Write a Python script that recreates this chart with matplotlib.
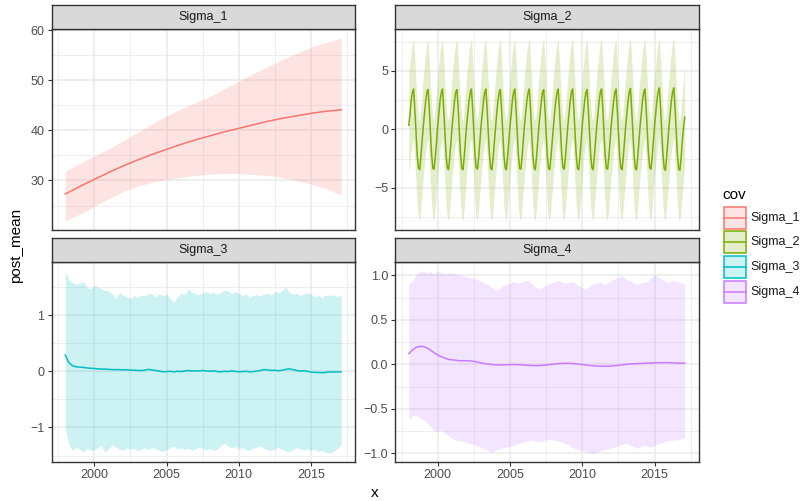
import numpy as np
import matplotlib
matplotlib.use("Agg")
import matplotlib.pyplot as plt
from matplotlib.patches import Rectangle
from matplotlib.lines import Line2D
from matplotlib.ticker import FuncFormatter

plt.rcParams['font.family'] = ['Liberation Sans', 'DejaVu Sans']

covs = ["Sigma_1", "Sigma_2", "Sigma_3", "Sigma_4"]
colors = ["#F8766D", "#7CAE00", "#00BFC4", "#C77CFF"]

# ---- Sigma_1: slowly rising level (yearly) ----
s1_x = [1998, 1999, 2000, 2001, 2002, 2003, 2004, 2005, 2006, 2007,
        2008, 2009, 2010, 2011, 2012, 2013, 2014, 2015, 2016, 2017.08]
s1_mean = [27.3, 28.8, 30.2, 31.6, 32.9, 34.1, 35.2, 36.2, 37.2, 38.1,
           38.9, 39.7, 40.4, 41.1, 41.8, 42.4, 42.9, 43.4, 43.8, 44.1]
s1_lo = [22.0, 23.3, 24.8, 26.4, 27.8, 28.9, 29.6, 30.2, 30.6, 31.0,
         31.3, 31.4, 31.4, 31.2, 31.0, 30.6, 30.0, 29.3, 28.4, 27.1]
s1_hi = [31.9, 33.4, 34.9, 36.3, 37.9, 39.6, 41.3, 42.9, 44.3, 45.5,
         46.8, 48.3, 49.8, 51.3, 52.7, 54.1, 55.4, 56.6, 57.5, 58.4]

# ---- Sigma_2: seasonal component, monthly Jan 1998 .. Feb 2017 ----
s2_mean = [
    0.35, 1.30, 2.45, 3.15, 3.45, 1.70, -0.30, -2.20, -3.30, -3.45, -2.40, -1.05,
    0.25, 1.35, 2.40, 3.20, 3.40, 1.75, -0.35, -2.25, -3.35, -3.40, -2.35, -1.10,
    0.30, 1.40, 2.50, 3.15, 3.45, 1.70, -0.30, -2.25, -3.30, -3.45, -2.40, -1.05,
    0.30, 1.35, 2.45, 3.20, 3.40, 1.80, -0.35, -2.20, -3.35, -3.45, -2.35, -1.00,
    0.35, 1.40, 2.45, 3.15, 3.45, 1.75, -0.30, -2.25, -3.30, -3.40, -2.40, -1.05,
    0.30, 1.35, 2.40, 3.20, 3.45, 1.70, -0.35, -2.20, -3.35, -3.45, -2.40, -1.10,
    0.25, 1.40, 2.45, 3.15, 3.40, 1.75, -0.30, -2.25, -3.30, -3.45, -2.35, -1.05,
    0.30, 1.35, 2.50, 3.20, 3.45, 1.70, -0.35, -2.25, -3.35, -3.40, -2.40, -1.00,
    0.35, 1.40, 2.45, 3.15, 3.45, 1.80, -0.30, -2.20, -3.30, -3.45, -2.40, -1.05,
    0.30, 1.35, 2.40, 3.20, 3.40, 1.75, -0.35, -2.25, -3.35, -3.45, -2.35, -1.10,
    0.25, 1.40, 2.45, 3.15, 3.45, 1.70, -0.30, -2.20, -3.30, -3.40, -2.40, -1.05,
    0.30, 1.35, 2.45, 3.20, 3.45, 1.75, -0.35, -2.25, -3.35, -3.45, -2.40, -1.05,
    0.35, 1.40, 2.50, 3.15, 3.40, 1.70, -0.30, -2.25, -3.30, -3.45, -2.35, -1.00,
    0.30, 1.35, 2.45, 3.20, 3.45, 1.80, -0.35, -2.20, -3.35, -3.40, -2.40, -1.05,
    0.30, 1.40, 2.40, 3.15, 3.45, 1.75, -0.30, -2.25, -3.30, -3.45, -2.40, -1.10,
    0.25, 1.35, 2.45, 3.20, 3.50, 1.70, -0.35, -2.25, -3.35, -3.45, -2.35, -1.05,
    0.30, 1.40, 2.45, 3.20, 3.45, 1.75, -0.30, -2.20, -3.30, -3.40, -2.40, -1.00,
    0.35, 1.40, 2.50, 3.25, 3.55, 1.80, -0.35, -2.25, -3.35, -3.50, -2.40, -1.05,
    0.30, 1.45, 2.50, 3.25, 3.55, 1.75, -0.30, -2.25, -3.40, -3.50, -2.45, -1.00,
    0.10, 1.05,
]
s2_hi = [
    4.95, 5.65, 6.75, 7.40, 7.70, 5.95, 3.95, 2.05, 0.95, 0.80, 1.85, 3.20,
    4.50, 5.60, 6.65, 7.45, 7.65, 6.00, 3.90, 2.00, 0.90, 0.85, 1.90, 3.15,
    4.55, 5.65, 6.75, 7.40, 7.70, 5.95, 3.95, 2.00, 0.95, 0.80, 1.85, 3.20,
    4.55, 5.60, 6.70, 7.45, 7.65, 6.05, 3.90, 2.05, 0.90, 0.80, 1.90, 3.25,
    4.60, 5.65, 6.70, 7.40, 7.70, 6.00, 3.95, 2.00, 0.95, 0.85, 1.85, 3.20,
    4.55, 5.60, 6.65, 7.45, 7.70, 5.95, 3.90, 2.05, 0.90, 0.80, 1.85, 3.15,
    4.50, 5.65, 6.70, 7.40, 7.65, 6.00, 3.95, 2.00, 0.95, 0.80, 1.90, 3.20,
    4.55, 5.60, 6.75, 7.45, 7.70, 5.95, 3.90, 2.00, 0.90, 0.85, 1.85, 3.25,
    4.60, 5.65, 6.70, 7.40, 7.70, 6.05, 3.95, 2.05, 0.95, 0.80, 1.85, 3.20,
    4.55, 5.60, 6.65, 7.45, 7.65, 6.00, 3.90, 2.00, 0.90, 0.80, 1.90, 3.15,
    4.50, 5.65, 6.70, 7.40, 7.70, 5.95, 3.95, 2.05, 0.95, 0.85, 1.85, 3.20,
    4.55, 5.60, 6.70, 7.45, 7.70, 6.00, 3.90, 2.00, 0.90, 0.80, 1.85, 3.20,
    4.60, 5.65, 6.75, 7.40, 7.65, 5.95, 3.95, 2.00, 0.95, 0.80, 1.90, 3.25,
    4.55, 5.60, 6.70, 7.45, 7.70, 6.05, 3.90, 2.05, 0.90, 0.85, 1.85, 3.20,
    4.55, 5.65, 6.65, 7.40, 7.70, 6.00, 3.95, 2.00, 0.95, 0.80, 1.85, 3.15,
    4.50, 5.60, 6.70, 7.45, 7.75, 5.95, 3.90, 2.00, 0.90, 0.80, 1.90, 3.20,
    4.55, 5.65, 6.70, 7.45, 7.70, 6.00, 3.95, 2.05, 0.95, 0.85, 1.85, 3.25,
    4.60, 5.65, 6.75, 7.50, 7.80, 6.05, 3.90, 2.00, 0.90, 0.75, 1.85, 3.20,
    4.55, 5.70, 6.75, 7.50, 7.80, 6.00, 3.95, 2.00, 0.85, 0.75, 1.80, 3.25,
    4.35, 5.40,
]
s2_lo = [
    -3.80, -3.00, -1.85, -1.15, -0.85, -2.60, -4.60, -6.50, -7.60, -7.75, -6.70, -5.35,
    -4.05, -2.95, -1.90, -1.10, -0.90, -2.55, -4.65, -6.55, -7.65, -7.70, -6.65, -5.40,
    -4.00, -2.90, -1.80, -1.15, -0.85, -2.60, -4.60, -6.55, -7.60, -7.75, -6.70, -5.35,
    -4.00, -2.95, -1.85, -1.10, -0.90, -2.50, -4.65, -6.50, -7.65, -7.75, -6.65, -5.30,
    -3.95, -2.90, -1.85, -1.15, -0.85, -2.55, -4.60, -6.55, -7.60, -7.70, -6.70, -5.35,
    -4.00, -2.95, -1.90, -1.10, -0.85, -2.60, -4.65, -6.50, -7.65, -7.75, -6.70, -5.40,
    -4.05, -2.90, -1.85, -1.15, -0.90, -2.55, -4.60, -6.55, -7.60, -7.75, -6.65, -5.35,
    -4.00, -2.95, -1.80, -1.10, -0.85, -2.60, -4.65, -6.55, -7.65, -7.70, -6.70, -5.30,
    -3.95, -2.90, -1.85, -1.15, -0.85, -2.50, -4.60, -6.50, -7.60, -7.75, -6.70, -5.35,
    -4.00, -2.95, -1.90, -1.10, -0.90, -2.55, -4.65, -6.55, -7.65, -7.75, -6.65, -5.40,
    -4.05, -2.90, -1.85, -1.15, -0.85, -2.60, -4.60, -6.50, -7.60, -7.70, -6.70, -5.35,
    -4.00, -2.95, -1.85, -1.10, -0.85, -2.55, -4.65, -6.55, -7.65, -7.75, -6.70, -5.35,
    -3.95, -2.90, -1.80, -1.15, -0.90, -2.60, -4.60, -6.55, -7.60, -7.75, -6.65, -5.30,
    -4.00, -2.95, -1.85, -1.10, -0.85, -2.50, -4.65, -6.50, -7.65, -7.70, -6.70, -5.35,
    -4.00, -2.90, -1.90, -1.15, -0.85, -2.55, -4.60, -6.55, -7.60, -7.75, -6.70, -5.40,
    -4.05, -2.95, -1.85, -1.10, -0.80, -2.60, -4.65, -6.55, -7.65, -7.75, -6.65, -5.35,
    -4.00, -2.90, -1.85, -1.10, -0.85, -2.55, -4.60, -6.50, -7.60, -7.70, -6.70, -5.30,
    -3.95, -2.90, -1.80, -1.05, -0.75, -2.50, -4.65, -6.55, -7.65, -7.80, -6.70, -5.35,
    -4.00, -2.85, -1.80, -1.05, -0.75, -2.55, -4.60, -6.55, -7.70, -7.80, -6.75, -5.30,
    -4.20, -3.25,
]
s2_x = 1998 + np.arange(len(s2_mean)) / 12.0

# ---- Sigma_3 and Sigma_4: quarterly, Q1 1998 .. Q1 2017 ----
q_x = list(np.arange(1998.0, 2017.01, 0.25)) + [2017.08]

s3_mean = [
    0.29, 0.15, 0.10, 0.08, 0.075, 0.07, 0.06, 0.055, 0.05, 0.045,
    0.04, 0.04, 0.035, 0.03, 0.03, 0.03, 0.025, 0.03, 0.02, 0.02,
    0.015, 0.015, 0.02, 0.035, 0.025, 0.015, 0.005, -0.01, -0.005, 0.0,
    -0.01, 0.0, -0.005, 0.005, 0.015, 0.005, 0.01, 0.005, 0.015, 0.005,
    0.0, 0.01, -0.005, -0.01, 0.0, -0.005, 0.01, 0.0, -0.01, -0.005,
    0.0, -0.01, -0.005, 0.005, 0.015, 0.03, 0.025, 0.015, 0.02, 0.01,
    0.02, 0.035, 0.045, 0.03, 0.015, 0.005, 0.01, 0.0, -0.015, -0.02,
    -0.02, -0.025, -0.02, -0.01, -0.015, -0.01, -0.01, -0.01,
]
s3_hi = [
    1.79, 1.62, 1.58, 1.55, 1.57, 1.59, 1.50, 1.46, 1.53, 1.50,
    1.47, 1.44, 1.43, 1.38, 1.29, 1.40, 1.36, 1.33, 1.30, 1.35,
    1.31, 1.36, 1.34, 1.39, 1.37, 1.33, 1.38, 1.35, 1.37, 1.30,
    1.23, 1.33, 1.39, 1.36, 1.47, 1.41, 1.38, 1.36, 1.40, 1.42,
    1.38, 1.41, 1.37, 1.40, 1.45, 1.43, 1.38, 1.42, 1.39, 1.35,
    1.38, 1.32, 1.35, 1.37, 1.34, 1.38, 1.39, 1.36, 1.42, 1.40,
    1.44, 1.50, 1.40, 1.37, 1.39, 1.35, 1.38, 1.40, 1.38, 1.33,
    1.35, 1.31, 1.36, 1.34, 1.37, 1.33, 1.36, 1.35,
]
s3_lo = [
    -1.02, -1.30, -1.41, -1.35, -1.39, -1.43, -1.37, -1.41, -1.40, -1.36,
    -1.33, -1.44, -1.38, -1.31, -1.35, -1.39, -1.41, -1.36, -1.39, -1.37,
    -1.42, -1.39, -1.36, -1.40, -1.35, -1.38, -1.41, -1.43, -1.39, -1.36,
    -1.33, -1.38, -1.36, -1.39, -1.37, -1.41, -1.38, -1.35, -1.38, -1.40,
    -1.37, -1.41, -1.38, -1.33, -1.28, -1.33, -1.36, -1.34, -1.38, -1.36,
    -1.40, -1.41, -1.37, -1.35, -1.33, -1.37, -1.40, -1.41, -1.38, -1.36,
    -1.39, -1.42, -1.44, -1.39, -1.36, -1.38, -1.40, -1.38, -1.41, -1.39,
    -1.43, -1.41, -1.44, -1.46, -1.43, -1.39, -1.33, -1.31,
]

s4_mean = [
    0.12, 0.16, 0.19, 0.20, 0.20, 0.185, 0.16, 0.13, 0.105, 0.085,
    0.07, 0.055, 0.05, 0.045, 0.04, 0.04, 0.04, 0.038, 0.033, 0.025,
    0.015, 0.008, 0.002, -0.003, -0.007, -0.008, -0.007, -0.005, -0.004, -0.003,
    -0.004, -0.006, -0.009, -0.012, -0.014, -0.015, -0.014, -0.012, -0.008, -0.003,
    0.002, 0.006, 0.009, 0.011, 0.011, 0.009, 0.006, 0.002, -0.003, -0.008,
    -0.013, -0.017, -0.020, -0.022, -0.023, -0.022, -0.020, -0.016, -0.011, -0.006,
    -0.002, 0.002, 0.005, 0.007, 0.009, 0.011, 0.013, 0.015, 0.017, 0.018,
    0.019, 0.019, 0.018, 0.016, 0.014, 0.013, 0.012, 0.012,
]
s4_hi = [
    0.90, 0.93, 1.01, 1.04, 1.05, 1.03, 1.04, 1.02, 1.04, 1.03,
    1.01, 1.03, 1.02, 1.02, 1.00, 0.99, 0.98, 0.97, 0.97, 0.95,
    0.93, 0.91, 0.89, 0.86, 0.83, 0.85, 0.88, 0.90, 0.91, 0.93,
    0.91, 0.92, 0.94, 0.95, 0.90, 0.87, 0.85, 0.87, 0.89, 0.91,
    0.92, 0.94, 0.93, 0.91, 0.92, 0.93, 0.91, 0.88, 0.86, 0.84,
    0.88, 0.90, 0.91, 0.92, 0.90, 0.91, 0.94, 0.96, 0.98, 0.99,
    0.96, 0.94, 0.92, 0.90, 0.91, 0.92, 0.93, 0.97, 1.01, 0.98,
    0.95, 0.93, 0.92, 0.94, 0.93, 0.92, 0.91, 0.90,
]
s4_lo = [
    -0.63, -0.57, -0.58, -0.60, -0.62, -0.65, -0.70, -0.75, -0.76, -0.74,
    -0.78, -0.81, -0.83, -0.85, -0.86, -0.86, -0.88, -0.89, -0.90, -0.92,
    -0.94, -0.95, -0.97, -0.99, -0.97, -0.95, -0.94, -0.93, -0.92, -0.91,
    -0.89, -0.88, -0.87, -0.86, -0.85, -0.86, -0.87, -0.86, -0.85, -0.84,
    -0.85, -0.86, -0.87, -0.89, -0.90, -0.93, -0.95, -0.96, -0.97, -0.98,
    -0.99, -1.00, -0.99, -0.97, -0.96, -0.95, -0.94, -0.93, -0.91, -0.90,
    -0.89, -0.90, -0.92, -0.94, -0.93, -0.91, -0.92, -0.93, -0.91, -0.89,
    -0.88, -0.86, -0.86, -0.85, -0.85, -0.84, -0.83, -0.82,
]

series = [
    (s1_x, s1_mean, s1_lo, s1_hi),
    (s2_x, s2_mean, s2_lo, s2_hi),
    (q_x, s3_mean, s3_lo, s3_hi),
    (q_x, s4_mean, s4_lo, s4_hi),
]

y_major = [[30, 40, 50, 60], [-5, 0, 5], [-1, 0, 1], [-1.0, -0.5, 0.0, 0.5, 1.0]]
y_minor = [[25, 35, 45, 55], [-7.5, -2.5, 2.5, 7.5], [-1.5, -0.5, 0.5, 1.5],
           [-0.75, -0.25, 0.25, 0.75]]
x_major = [2000, 2005, 2010, 2015]
x_minor = [1997.5, 2002.5, 2007.5, 2012.5, 2017.5]

W, H = 807, 501
fig = plt.figure(figsize=(W / 100, H / 100), dpi=100)


def px_rect(x0, y0, x1, y1):
    return [x0 / W, 1 - y1 / H, (x1 - x0) / W, (y1 - y0) / H]


cols = [(51.5, 355.0), (395.0, 698.5)]
rows = [(4.7, 29.0, 229.7), (237.7, 261.7, 462.4)]

fmt_int = FuncFormatter(lambda v, _: f"{v + 0:g}".replace("-", "\u2212"))
fmt_one = FuncFormatter(lambda v, _: f"{v + 0:.1f}".replace("-", "\u2212"))

# shared x range with 5% padding
xmin = min(min(s[0]) for s in series)
xmax = max(max(s[0]) for s in series)
xpad = 0.05 * (xmax - xmin)

border = "#333333"
for i, (name, col, (x, m, lo, hi)) in enumerate(zip(covs, colors, series)):
    r, c = divmod(i, 2)
    x0, x1 = cols[c]
    st, pt, pb = rows[r]
    ax = fig.add_axes(px_rect(x0, pt, x1, pb))
    sx = fig.add_axes(px_rect(x0, st, x1, pt))

    ax.fill_between(x, lo, hi, color=col, alpha=0.2, linewidth=0, zorder=2)
    ax.plot(x, m, color=col, lw=1.1, zorder=3)

    ax.set_xlim(xmin - xpad, xmax + xpad)
    ymin, ymax = min(lo), max(hi)
    ypad = 0.05 * (ymax - ymin)
    ax.set_ylim(ymin - ypad, ymax + ypad)

    ax.set_xticks(x_major)
    ax.set_xticks(x_minor, minor=True)
    ax.set_yticks(y_major[i])
    ax.set_yticks(y_minor[i], minor=True)
    ax.yaxis.set_major_formatter(fmt_one if i == 3 else fmt_int)
    ax.xaxis.set_major_formatter(FuncFormatter(lambda v, _: f"{v:.0f}"))

    ax.set_axisbelow(True)
    ax.grid(which="major", color="#EBEBEB", lw=1.1)
    ax.grid(which="minor", color="#EBEBEB", lw=0.55)
    ax.tick_params(which="minor", length=0)
    ax.tick_params(axis="y", which="major", length=3.0, width=0.8, color=border,
                   labelsize=9, labelcolor="#4D4D4D", pad=2)
    if r == 0:
        ax.tick_params(axis="x", which="major", length=0, labelbottom=False)
    else:
        ax.tick_params(axis="x", which="major", length=3.0, width=0.8, color=border,
                       labelsize=9, labelcolor="#4D4D4D", pad=2)
    for s in ax.spines.values():
        s.set_color(border)
        s.set_linewidth(1.0)

    sx.set_facecolor("#D9D9D9")
    sx.set_xticks([])
    sx.set_yticks([])
    for s in sx.spines.values():
        s.set_color(border)
        s.set_linewidth(1.0)
    sx.text(0.5, 0.5, name, ha="center", va="center", fontsize=9,
            color="#1A1A1A", transform=sx.transAxes)

# axis titles
fig.text(16 / W, 1 - 245.5 / H, "post_mean", rotation=90, ha="center",
         va="center", fontsize=11, color="black")
fig.text(375 / W, 1 - 493 / H, "x", ha="center", va="center", fontsize=11,
         color="black")

# legend
lax = fig.add_axes([0, 0, 1, 1], facecolor="none")
lax.set_xlim(0, W)
lax.set_ylim(H, 0)
lax.axis("off")
lax.text(722, 195, "cov", ha="left", va="center", fontsize=11, color="black")
key_tops = [206.5, 231.2, 255.9, 280.6]
for name, col, top in zip(covs, colors, key_tops):
    lax.add_patch(Rectangle((723.5, top), 22.5, 22, facecolor=col, alpha=0.2,
                            edgecolor="none"))
    lax.add_patch(Rectangle((723.5, top), 22.5, 22, facecolor="none",
                            edgecolor=col, lw=1.1))
    lax.add_line(Line2D([723.5, 746], [top + 11, top + 11], color=col, lw=1.1))
    lax.text(750, top + 11, name, ha="left", va="center", fontsize=9,
             color="#1A1A1A")

fig.savefig("out.png", dpi=100, facecolor="white")
